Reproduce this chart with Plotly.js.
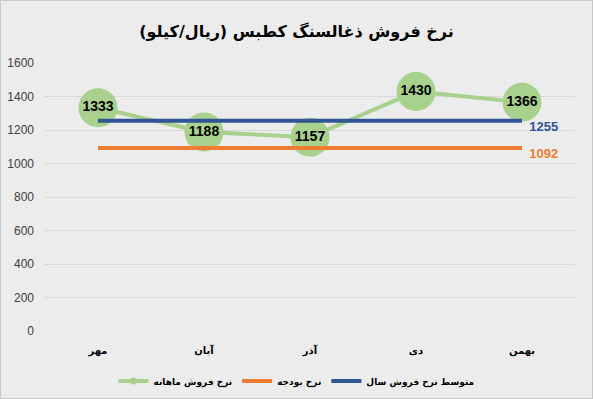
<!DOCTYPE html>
<html><head><meta charset="utf-8">
<script src="https://cdn.plot.ly/plotly-3.0.1.min.js"></script>
<style>body{margin:0;background:#ECECEC}#c{width:593px;height:399px}</style>
</head><body>
<div id="c"></div>
<div style="position:absolute;left:0;top:0;width:591px;height:397px;border:1px solid #C8C8C8;pointer-events:none"></div>
<script>
const months = ['مهر','آبان','آذر','دی','بهمن'];
const monthlyRate = [1333,1188,1157,1430,1366];
const budgetRate = 1092;
const avgRate = 1255;
const titleText = 'نرخ فروش ذغالسنگ کطبس (ریال/کیلو)';
const seriesNames = ['نرخ فروش ماهانه','نرخ بودجه','متوسط نرخ فروش سال'];
const yTicks = [0,200,400,600,800,1000,1200,1400,1600];

const GREEN='#A9D18E', ORANGE='#ED7D31', BLUE='#2F5597';
const arabic = 'DejaVu Sans';
const budgetArr = months.map(()=>budgetRate);
const avgArr = months.map(()=>avgRate);
const lastOnly = (arr,v)=>arr.map((_,i)=>i===arr.length-1?'  '+String(v):'');

const data = [
  {x:[null],y:[null],name:seriesNames[0],mode:'lines+markers',line:{color:GREEN,width:4},marker:{color:GREEN,size:7},showlegend:true,hoverinfo:'skip'},
  {x:months,y:monthlyRate,name:seriesNames[0],mode:'lines+markers+text',showlegend:false,
   line:{color:GREEN,width:4},marker:{color:GREEN,size:39},
   text:monthlyRate.map(String),textposition:'middle center',
   textfont:{family:'Liberation Sans',size:14,color:'#000',weight:'bold'},cliponaxis:false},
  {x:months,y:budgetArr,name:seriesNames[1],mode:'lines+text',line:{color:ORANGE,width:4},
   text:lastOnly(months,budgetRate),textposition:'bottom right',
   textfont:{family:'Liberation Sans',size:13,color:ORANGE,weight:'bold'},cliponaxis:false},
  {x:months,y:avgArr,name:seriesNames[2],mode:'lines+text',line:{color:BLUE,width:4},
   text:lastOnly(months,avgRate),textposition:'bottom right',
   textfont:{family:'Liberation Sans',size:13,color:BLUE,weight:'bold'},cliponaxis:false}
];

const layout = {
  width:593,height:399,
  paper_bgcolor:'#ECECEC',plot_bgcolor:'#ECECEC',
  margin:{l:45,r:18,t:63,b:68},
  title:{text:titleText,font:{family:arabic,size:16,color:'#000',weight:'bold'},
    x:0.5,xref:'container',xanchor:'center',y:1-31/399,yref:'container',yanchor:'middle'},
  xaxis:{type:'category',range:[-0.5,4.5],showgrid:false,zeroline:false,showline:false,
    ticks:'',tickfont:{family:arabic,size:10,color:'#000',weight:'bold'},ticklabelstandoff:12,fixedrange:true},
  yaxis:{range:[0,1600],tickvals:yTicks,ticktext:yTicks.map(String),showgrid:true,gridcolor:'#D9D9D9',gridwidth:1,
    zeroline:false,showline:false,ticks:'',ticklabelstandoff:10,
    tickfont:{family:'Liberation Sans',size:12,color:'#404040'},fixedrange:true},
  showlegend:true,
  legend:{orientation:'h',x:0.5,xref:'container',xanchor:'center',y:1-381/399,yref:'container',yanchor:'middle',
    font:{family:arabic,size:9,color:'#000',weight:'bold'},bgcolor:'rgba(0,0,0,0)',itemwidth:30,traceorder:'normal'}
};
Plotly.newPlot('c',data,layout,{displayModeBar:false,staticPlot:true});
</script>
</body></html>
